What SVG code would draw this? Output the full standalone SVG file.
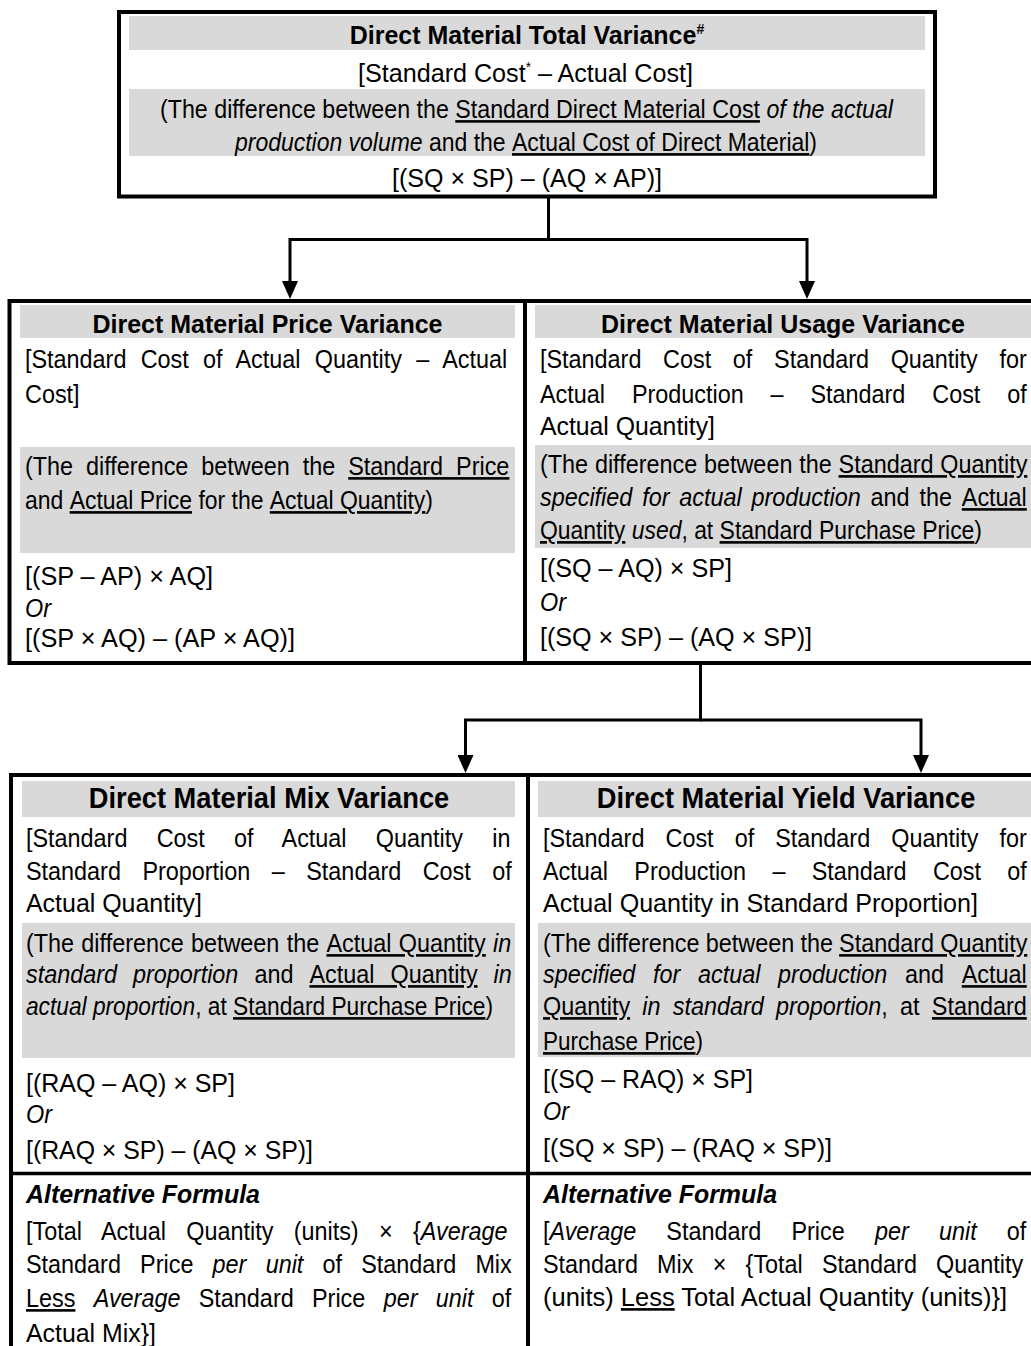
<svg xmlns="http://www.w3.org/2000/svg" width="1031" height="1346" viewBox="0 0 1031 1346">
<style>
  .t{font-family:"Liberation Sans",Arial,Helvetica,sans-serif;font-size:26px;fill:#000}
  .h1{font-size:26.6px;font-weight:bold;text-anchor:middle}
  .h2{font-size:29px;font-weight:bold;text-anchor:middle}
  .bi{font-weight:bold;font-style:italic}
  .i{font-style:italic}
  .u{text-decoration:underline}
  .band{fill:#d9d9d9}
  .frame{fill:none;stroke:#000;stroke-width:4}
  .rule{stroke:#000;stroke-width:3.5}
  .wire{fill:none;stroke:#000;stroke-width:3;stroke-linejoin:miter}
</style>
<defs>
  <marker id="ah" viewBox="0 0 18 16" refX="9" refY="8" markerWidth="18" markerHeight="16" markerUnits="userSpaceOnUse" orient="auto">
    <path d="M0,0 L18,8 L0,16 z" fill="#000"/>
  </marker>
</defs>
<rect width="1031" height="1346" fill="#fff"/>

<!-- connectors -->
<g id="connectors">
  <path class="wire" d="M548.5,197 V239.5 H290 V290" marker-end="url(#ah)"/>
  <path class="wire" d="M548.5,239.5 H807 V290" marker-end="url(#ah)"/>
  <path class="wire" d="M700.5,664 V720 H465.5 V764" marker-end="url(#ah)"/>
  <path class="wire" d="M700.5,720 H921 V764" marker-end="url(#ah)"/>
</g>

<!-- total variance -->
<g id="total-variance">
  <rect class="band" x="129" y="16" width="796" height="34"/>
  <rect class="band" x="129" y="89" width="796" height="67"/>
  <rect class="frame" x="119" y="12" width="816" height="184.5"/>
  <g class="t" transform="scale(0.94 1)">
    <text class="h1" x="560.6" y="44">Direct Material Total Variance<tspan font-size="15" dy="-10">#</tspan></text>
  </g>
  <g class="t" transform="scale(0.9 1)">
    <text x="397.8" y="82" textLength="372.2" lengthAdjust="spacingAndGlyphs">[Standard Cost<tspan font-size="14" dy="-10">*</tspan><tspan dy="10"> – Actual Cost]</tspan></text>
    <text x="177.8" y="118" textLength="814.4" lengthAdjust="spacingAndGlyphs">(The difference between the <tspan class="u">Standard Direct Material Cost</tspan> <tspan class="i">of the actual</tspan></text>
    <text x="261.1" y="151" textLength="646.7" lengthAdjust="spacingAndGlyphs"><tspan class="i">production volume</tspan> and the <tspan class="u">Actual Cost of Direct Material</tspan>)</text>
    <text x="435.6" y="187" textLength="300" lengthAdjust="spacingAndGlyphs">[(SQ × SP) – (AQ × AP)]</text>
  </g>
</g>

<!-- price variance -->
<g id="price-variance">
  <rect class="band" x="20" y="305" width="495" height="33"/>
  <rect class="band" x="20" y="447" width="495" height="106"/>
  <rect class="frame" x="9.5" y="301" width="515.5" height="362"/>
  <g class="t" transform="scale(0.94 1)">
    <text class="h1" x="284.6" y="333">Direct Material Price Variance</text>
  </g>
  <g class="t" transform="scale(0.9 1)">
    <text x="27.78" y="368" word-spacing="8.64">[Standard Cost of Actual Quantity – Actual</text>
    <text x="27.78" y="403">Cost]</text>
    <text x="27.78" y="475" word-spacing="7.2">(The difference between the <tspan class="u">Standard Price</tspan></text>
    <text x="27.78" y="509" textLength="453.3" lengthAdjust="spacingAndGlyphs">and <tspan class="u">Actual Price</tspan> for the <tspan class="u">Actual Quantity</tspan>)</text>
    <text x="27.78" y="585" textLength="208.9" lengthAdjust="spacingAndGlyphs">[(SP – AP) × AQ]</text>
    <text x="27.78" y="617" class="i">Or</text>
    <text x="27.78" y="647" textLength="300" lengthAdjust="spacingAndGlyphs">[(SP × AQ) – (AP × AQ)]</text>
  </g>
</g>

<!-- usage variance -->
<g id="usage-variance">
  <rect class="band" x="535" y="305" width="496" height="33"/>
  <rect class="band" x="535" y="445" width="496" height="103"/>
  <rect class="frame" x="525" y="301" width="520" height="362"/>
  <g class="t" transform="scale(0.94 1)">
    <text class="h1" x="833" y="333">Direct Material Usage Variance</text>
  </g>
  <g class="t" transform="scale(0.9 1)">
    <text x="600" y="368" word-spacing="16.88">[Standard Cost of Standard Quantity for</text>
    <text x="600" y="403" word-spacing="22.66">Actual Production – Standard Cost of</text>
    <text x="600" y="435" textLength="194.4" lengthAdjust="spacingAndGlyphs">Actual Quantity]</text>
    <text x="600" y="473" word-spacing="0.35">(The difference between the <tspan class="u">Standard Quantity</tspan></text>
    <text x="600" y="506" word-spacing="3.72"><tspan class="i">specified for actual production</tspan> and the <tspan class="u">Actual</tspan></text>
    <text x="600" y="539" textLength="491.1" lengthAdjust="spacingAndGlyphs"><tspan class="u">Quantity</tspan> <tspan class="i">used</tspan>, at <tspan class="u">Standard Purchase Price</tspan>)</text>
    <text x="600" y="577" textLength="213.3" lengthAdjust="spacingAndGlyphs">[(SQ – AQ) × SP]</text>
    <text x="600" y="611" class="i">Or</text>
    <text x="600" y="646" textLength="302.2" lengthAdjust="spacingAndGlyphs">[(SQ × SP) – (AQ × SP)]</text>
  </g>
</g>

<!-- mix variance -->
<g id="mix-variance">
  <rect class="band" x="22" y="781" width="493" height="36"/>
  <rect class="band" x="22" y="923" width="493" height="135"/>
  <rect class="frame" x="11" y="775" width="517" height="600"/>
  <line class="rule" x1="11" y1="1173.5" x2="528" y2="1173.5"/>
  <g class="t" transform="scale(0.94 1)">
    <text class="h2" x="286.2" y="808">Direct Material Mix Variance</text>
  </g>
  <g class="t" transform="scale(0.9 1)">
    <text x="28.89" y="847" word-spacing="25.33">[Standard Cost of Actual Quantity in</text>
    <text x="28.89" y="880" word-spacing="16.66">Standard Proportion – Standard Cost of</text>
    <text x="28.89" y="912" textLength="195.6" lengthAdjust="spacingAndGlyphs">Actual Quantity]</text>
    <text x="28.89" y="952" word-spacing="0.88">(The difference between the <tspan class="u">Actual Quantity</tspan> <tspan class="i">in</tspan></text>
    <text x="28.89" y="983" word-spacing="10.6"><tspan class="i">standard proportion</tspan> and <tspan class="u">Actual Quantity</tspan> <tspan class="i">in</tspan></text>
    <text x="28.89" y="1015" textLength="518.9" lengthAdjust="spacingAndGlyphs"><tspan class="i">actual proportion</tspan>, at <tspan class="u">Standard Purchase Price</tspan>)</text>
    <text x="28.89" y="1092" textLength="232.2" lengthAdjust="spacingAndGlyphs">[(RAQ – AQ) × SP]</text>
    <text x="28.89" y="1123" class="i">Or</text>
    <text x="28.89" y="1159" textLength="318.9" lengthAdjust="spacingAndGlyphs">[(RAQ × SP) – (AQ × SP)]</text>
    <text x="28.89" y="1203" class="bi" textLength="260" lengthAdjust="spacingAndGlyphs">Alternative Formula</text>
    <text x="28.89" y="1240" word-spacing="15.37">[Total Actual Quantity (units) × {<tspan class="i">Average</tspan></text>
    <text x="28.89" y="1273" word-spacing="14.13">Standard Price <tspan class="i">per unit</tspan> of Standard Mix</text>
    <text x="28.89" y="1307" word-spacing="13.16"><tspan class="u">Less</tspan> <tspan class="i">Average</tspan> Standard Price <tspan class="i">per unit</tspan> of</text>
    <text x="28.89" y="1342" textLength="144.4" lengthAdjust="spacingAndGlyphs">Actual Mix}]</text>
  </g>
</g>

<!-- yield variance -->
<g id="yield-variance">
  <rect class="band" x="538" y="781" width="493" height="36"/>
  <rect class="band" x="538" y="923" width="493" height="134"/>
  <rect class="frame" x="528" y="775" width="520" height="600"/>
  <line class="rule" x1="528" y1="1173.5" x2="1031" y2="1173.5"/>
  <g class="t" transform="scale(0.94 1)">
    <text class="h2" x="836.2" y="808">Direct Material Yield Variance</text>
  </g>
  <g class="t" transform="scale(0.9 1)">
    <text x="603.33" y="847" word-spacing="16.21">[Standard Cost of Standard Quantity for</text>
    <text x="603.33" y="880" word-spacing="22">Actual Production – Standard Cost of</text>
    <text x="603.33" y="912" textLength="483.3" lengthAdjust="spacingAndGlyphs">Actual Quantity in Standard Proportion]</text>
    <text x="603.33" y="952" word-spacing="-0.32">(The difference between the <tspan class="u">Standard Quantity</tspan></text>
    <text x="603.33" y="983" word-spacing="12.46"><tspan class="i">specified for actual production</tspan> and <tspan class="u">Actual</tspan></text>
    <text x="603.33" y="1015" word-spacing="6.39"><tspan class="u">Quantity</tspan> <tspan class="i">in standard proportion</tspan>, at <tspan class="u">Standard</tspan></text>
    <text x="603.33" y="1050" textLength="177.8" lengthAdjust="spacingAndGlyphs"><tspan class="u">Purchase Price</tspan>)</text>
    <text x="603.33" y="1088" textLength="233.3" lengthAdjust="spacingAndGlyphs">[(SQ – RAQ) × SP]</text>
    <text x="603.33" y="1120" class="i">Or</text>
    <text x="603.33" y="1157" textLength="321.1" lengthAdjust="spacingAndGlyphs">[(SQ × SP) – (RAQ × SP)]</text>
    <text x="603.33" y="1203" class="bi" textLength="260" lengthAdjust="spacingAndGlyphs">Alternative Formula</text>
    <text x="603.33" y="1240" word-spacing="26.33">[<tspan class="i">Average</tspan> Standard Price <tspan class="i">per unit</tspan> of</text>
    <text x="603.33" y="1273" word-spacing="14.13">Standard Mix × {Total Standard Quantity</text>
    <text x="603.33" y="1306" textLength="515.6" lengthAdjust="spacingAndGlyphs">(units) <tspan class="u">Less</tspan> Total Actual Quantity (units)}]</text>
  </g>
</g>
</svg>
